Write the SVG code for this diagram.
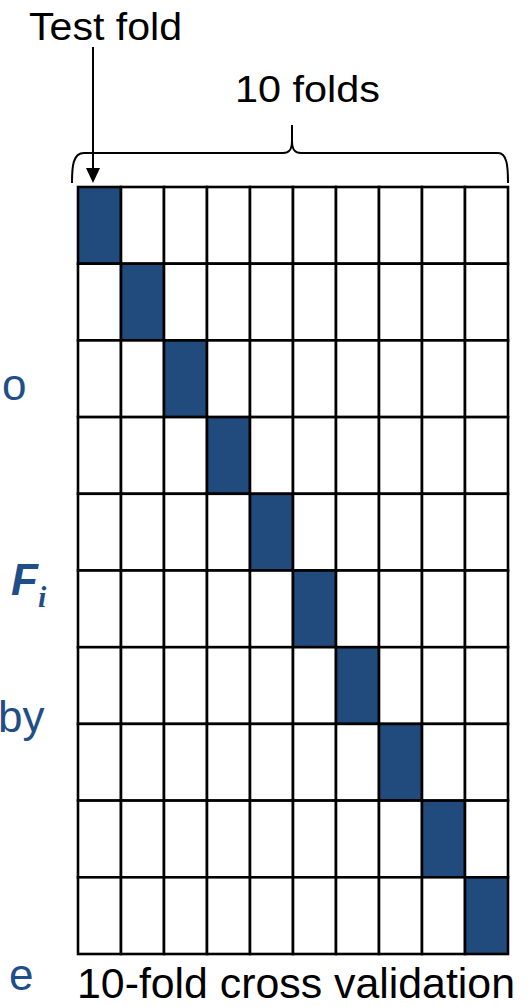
<svg xmlns="http://www.w3.org/2000/svg" width="531" height="1007" viewBox="0 0 531 1007">
<style>
.lbl{font-family:"Liberation Sans",Arial,sans-serif;fill:#000}
.side{font-family:"Liberation Sans",Arial,sans-serif;fill:#1f4e89;font-size:44px}
.cell{fill:#fff;stroke:#000;stroke-width:2.6}
.test{fill:#224b7d;stroke:#000;stroke-width:2.6}
.conn{fill:none;stroke:#000;stroke-width:2}
</style>
<defs>
<marker id="ah" markerWidth="8" markerHeight="8" refX="7" refY="4" orient="auto" markerUnits="userSpaceOnUse" viewBox="0 0 8 8">
<path d="M0,0 L8,4 L0,8 Z" fill="#000"/>
</marker>
</defs>
<rect width="531" height="1007" fill="#fff"/>
<g id="side-text">
<text class="side" x="2" y="400">o</text>
<text class="side" x="11" y="595" style="font-weight:bold;font-style:italic">F<tspan font-family="Liberation Serif" font-size="30" dy="12">i</tspan></text>
<text class="side" x="-2" y="732">by</text>
<text class="side" x="9" y="990">e</text>
</g>
<g id="label-test-fold"><text class="lbl" x="29" y="40" font-size="39" textLength="153" lengthAdjust="spacingAndGlyphs">Test fold</text></g>
<g id="label-10-folds"><text class="lbl" x="235" y="102" font-size="37" textLength="145" lengthAdjust="spacingAndGlyphs">10 folds</text></g>
<g id="label-caption"><text class="lbl" x="77" y="998" font-size="43" textLength="438" lengthAdjust="spacingAndGlyphs">10-fold cross validation</text></g>
<g id="connectors">
<path class="conn" d="M72,183 C72,166 73,153 84,153 L283,153 C289,153 292,150 292,141 L292,125 M292,141 C292,150 295,153 301,153 L498,153 C507,153 508,166 508,183"/>
<line x1="93" y1="47" x2="93" y2="170" stroke="#000" stroke-width="2"/>
<path d="M86,168 L100,168 L93,183 Z" fill="#000"/>
</g>
<g id="grid">
<g id="row1"><rect class="test" x="78" y="187" width="43" height="76.7"/><rect class="cell" x="121" y="187" width="43" height="76.7"/><rect class="cell" x="164" y="187" width="43" height="76.7"/><rect class="cell" x="207" y="187" width="43" height="76.7"/><rect class="cell" x="250" y="187" width="43" height="76.7"/><rect class="cell" x="293" y="187" width="43" height="76.7"/><rect class="cell" x="336" y="187" width="43" height="76.7"/><rect class="cell" x="379" y="187" width="43" height="76.7"/><rect class="cell" x="422" y="187" width="43" height="76.7"/><rect class="cell" x="465" y="187" width="43" height="76.7"/></g>
<g id="row2"><rect class="cell" x="78" y="263.7" width="43" height="76.7"/><rect class="test" x="121" y="263.7" width="43" height="76.7"/><rect class="cell" x="164" y="263.7" width="43" height="76.7"/><rect class="cell" x="207" y="263.7" width="43" height="76.7"/><rect class="cell" x="250" y="263.7" width="43" height="76.7"/><rect class="cell" x="293" y="263.7" width="43" height="76.7"/><rect class="cell" x="336" y="263.7" width="43" height="76.7"/><rect class="cell" x="379" y="263.7" width="43" height="76.7"/><rect class="cell" x="422" y="263.7" width="43" height="76.7"/><rect class="cell" x="465" y="263.7" width="43" height="76.7"/></g>
<g id="row3"><rect class="cell" x="78" y="340.4" width="43" height="76.7"/><rect class="cell" x="121" y="340.4" width="43" height="76.7"/><rect class="test" x="164" y="340.4" width="43" height="76.7"/><rect class="cell" x="207" y="340.4" width="43" height="76.7"/><rect class="cell" x="250" y="340.4" width="43" height="76.7"/><rect class="cell" x="293" y="340.4" width="43" height="76.7"/><rect class="cell" x="336" y="340.4" width="43" height="76.7"/><rect class="cell" x="379" y="340.4" width="43" height="76.7"/><rect class="cell" x="422" y="340.4" width="43" height="76.7"/><rect class="cell" x="465" y="340.4" width="43" height="76.7"/></g>
<g id="row4"><rect class="cell" x="78" y="417.1" width="43" height="76.7"/><rect class="cell" x="121" y="417.1" width="43" height="76.7"/><rect class="cell" x="164" y="417.1" width="43" height="76.7"/><rect class="test" x="207" y="417.1" width="43" height="76.7"/><rect class="cell" x="250" y="417.1" width="43" height="76.7"/><rect class="cell" x="293" y="417.1" width="43" height="76.7"/><rect class="cell" x="336" y="417.1" width="43" height="76.7"/><rect class="cell" x="379" y="417.1" width="43" height="76.7"/><rect class="cell" x="422" y="417.1" width="43" height="76.7"/><rect class="cell" x="465" y="417.1" width="43" height="76.7"/></g>
<g id="row5"><rect class="cell" x="78" y="493.8" width="43" height="76.7"/><rect class="cell" x="121" y="493.8" width="43" height="76.7"/><rect class="cell" x="164" y="493.8" width="43" height="76.7"/><rect class="cell" x="207" y="493.8" width="43" height="76.7"/><rect class="test" x="250" y="493.8" width="43" height="76.7"/><rect class="cell" x="293" y="493.8" width="43" height="76.7"/><rect class="cell" x="336" y="493.8" width="43" height="76.7"/><rect class="cell" x="379" y="493.8" width="43" height="76.7"/><rect class="cell" x="422" y="493.8" width="43" height="76.7"/><rect class="cell" x="465" y="493.8" width="43" height="76.7"/></g>
<g id="row6"><rect class="cell" x="78" y="570.5" width="43" height="76.7"/><rect class="cell" x="121" y="570.5" width="43" height="76.7"/><rect class="cell" x="164" y="570.5" width="43" height="76.7"/><rect class="cell" x="207" y="570.5" width="43" height="76.7"/><rect class="cell" x="250" y="570.5" width="43" height="76.7"/><rect class="test" x="293" y="570.5" width="43" height="76.7"/><rect class="cell" x="336" y="570.5" width="43" height="76.7"/><rect class="cell" x="379" y="570.5" width="43" height="76.7"/><rect class="cell" x="422" y="570.5" width="43" height="76.7"/><rect class="cell" x="465" y="570.5" width="43" height="76.7"/></g>
<g id="row7"><rect class="cell" x="78" y="647.2" width="43" height="76.7"/><rect class="cell" x="121" y="647.2" width="43" height="76.7"/><rect class="cell" x="164" y="647.2" width="43" height="76.7"/><rect class="cell" x="207" y="647.2" width="43" height="76.7"/><rect class="cell" x="250" y="647.2" width="43" height="76.7"/><rect class="cell" x="293" y="647.2" width="43" height="76.7"/><rect class="test" x="336" y="647.2" width="43" height="76.7"/><rect class="cell" x="379" y="647.2" width="43" height="76.7"/><rect class="cell" x="422" y="647.2" width="43" height="76.7"/><rect class="cell" x="465" y="647.2" width="43" height="76.7"/></g>
<g id="row8"><rect class="cell" x="78" y="723.9" width="43" height="76.7"/><rect class="cell" x="121" y="723.9" width="43" height="76.7"/><rect class="cell" x="164" y="723.9" width="43" height="76.7"/><rect class="cell" x="207" y="723.9" width="43" height="76.7"/><rect class="cell" x="250" y="723.9" width="43" height="76.7"/><rect class="cell" x="293" y="723.9" width="43" height="76.7"/><rect class="cell" x="336" y="723.9" width="43" height="76.7"/><rect class="test" x="379" y="723.9" width="43" height="76.7"/><rect class="cell" x="422" y="723.9" width="43" height="76.7"/><rect class="cell" x="465" y="723.9" width="43" height="76.7"/></g>
<g id="row9"><rect class="cell" x="78" y="800.6" width="43" height="76.7"/><rect class="cell" x="121" y="800.6" width="43" height="76.7"/><rect class="cell" x="164" y="800.6" width="43" height="76.7"/><rect class="cell" x="207" y="800.6" width="43" height="76.7"/><rect class="cell" x="250" y="800.6" width="43" height="76.7"/><rect class="cell" x="293" y="800.6" width="43" height="76.7"/><rect class="cell" x="336" y="800.6" width="43" height="76.7"/><rect class="cell" x="379" y="800.6" width="43" height="76.7"/><rect class="test" x="422" y="800.6" width="43" height="76.7"/><rect class="cell" x="465" y="800.6" width="43" height="76.7"/></g>
<g id="row10"><rect class="cell" x="78" y="877.3" width="43" height="76.7"/><rect class="cell" x="121" y="877.3" width="43" height="76.7"/><rect class="cell" x="164" y="877.3" width="43" height="76.7"/><rect class="cell" x="207" y="877.3" width="43" height="76.7"/><rect class="cell" x="250" y="877.3" width="43" height="76.7"/><rect class="cell" x="293" y="877.3" width="43" height="76.7"/><rect class="cell" x="336" y="877.3" width="43" height="76.7"/><rect class="cell" x="379" y="877.3" width="43" height="76.7"/><rect class="cell" x="422" y="877.3" width="43" height="76.7"/><rect class="test" x="465" y="877.3" width="43" height="76.7"/></g>
</g>
</svg>
